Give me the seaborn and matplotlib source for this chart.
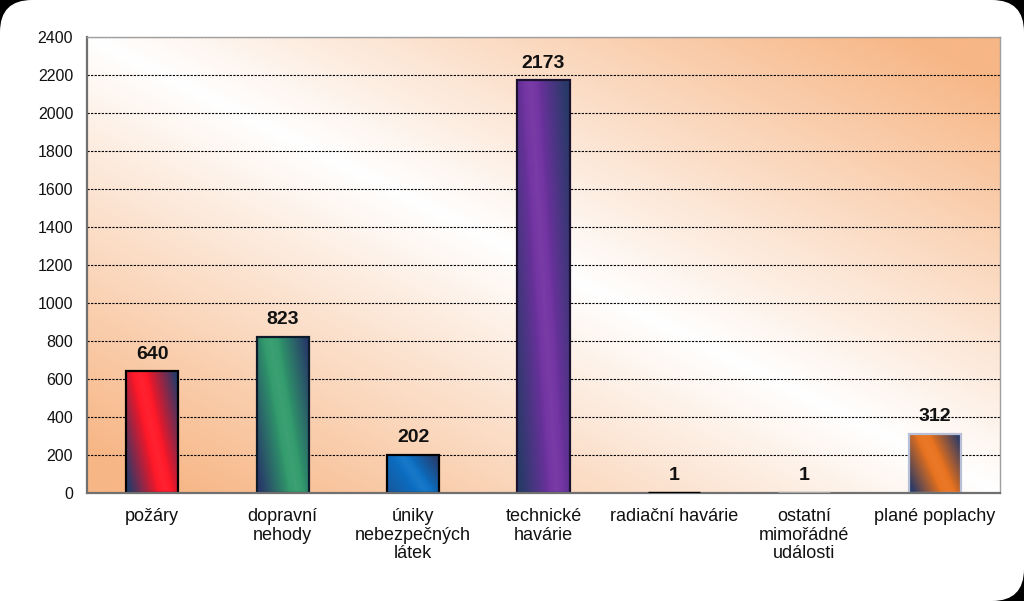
import numpy as np
import matplotlib
matplotlib.use("Agg")
import matplotlib.pyplot as plt
import matplotlib.colors as mcolors
from matplotlib.patches import FancyBboxPatch, Rectangle
import seaborn as sns

categories = ["požáry", "dopravní\nnehody", "úniky\nnebezpečných\nlátek",
              "technické\nhavárie", "radiační havárie",
              "ostatní\nmimořádné\nudálosti", "plané poplachy"]
values = [640, 823, 202, 2173, 1, 1, 312]
yticks = list(range(0, 2401, 200))

bar_colors = ["#ff1424", "#2f9a6a", "#0a6fc4", "#7030a0", "#202020", "#a0a0a0", "#e8701a"]
edge_colors = ["#000000", "#0d1a2a", "#000000", "#1a1030", "#000000", "#a8a8a8", "#b8c0d8"]
# navy weight at bottom-left / top-right corners
navy_bl = [1.0, 1.0, 0.4, 1.0, 0.0, 0.0, 1.0]
navy_tr = [1.0, 1.0, 1.0, 1.0, 0.0, 0.0, 1.0]
navy = np.array(mcolors.to_rgb("#283a68"))

sns.set_theme(style="white")
plt.rcParams["font.family"] = ["Liberation Sans", "DejaVu Sans"]

W, H = 10.24, 6.01
fig = plt.figure(figsize=(W, H), dpi=100, facecolor="black")
frame = FancyBboxPatch((0, 0), W, H, boxstyle="round,pad=0,rounding_size=0.32",
                       transform=fig.dpi_scale_trans, facecolor="white",
                       edgecolor="none", zorder=-10)
fig.patches.append(frame)
fig.patches.append(Rectangle((0, 0), 0.5, 0.5, transform=fig.dpi_scale_trans,
                             facecolor="white", edgecolor="none", zorder=-10))

ax = fig.add_axes([0.085, 0.1797, 0.8916, 0.7587])

# plot-area background gradient
n = 300
s = np.linspace(0, 1, n)
S, T = np.meshgrid(s, s)
u = S + T
w = np.clip(np.abs(u - 1.0) * 1.1, 0, 1) ** 1.0
orange = np.array(mcolors.to_rgb("#f7b685"))
bg = (1 - w)[..., None] * np.ones(3) + w[..., None] * orange
ax.imshow(bg, extent=[0, 1, 0, 1], transform=ax.transAxes, origin="lower",
          aspect="auto", zorder=0.1, interpolation="bilinear")

sns.barplot(x=categories, y=values, hue=categories, palette=bar_colors,
            legend=False, width=0.4, ax=ax, linewidth=1.6, saturation=1)

patches = [p for p in ax.patches if isinstance(p, Rectangle) and p.get_height() > 0]
patches.sort(key=lambda p: p.get_x())
for i, p in enumerate(patches):
    base = np.array(mcolors.to_rgb(bar_colors[i]))
    light = base + (1 - base) * 0.06
    m = 200
    ss = np.linspace(0, 1, m)
    SS, TT = np.meshgrid(ss, ss)
    v = SS + 0.5 * (TT - 0.5) - 0.5
    wl = np.clip((-v - 0.12) / 0.55, 0, 1) * navy_bl[i]
    wr = np.clip((v - 0.12) / 0.55, 0, 1) * navy_tr[i]
    wt = np.clip(wl + wr, 0, 1)
    hl = np.clip(1 - np.abs(v) / 0.2, 0, 1)[..., None]
    col = hl * light + (1 - hl) * base
    img = (1 - wt)[..., None] * col + wt[..., None] * navy
    x0, y0 = p.get_x(), p.get_y()
    im = ax.imshow(img, extent=[x0, x0 + p.get_width(), y0, y0 + p.get_height()],
                   origin="lower", aspect="auto", zorder=1, interpolation="bilinear")
    im.set_clip_path(p)
    p.set_facecolor("none")
    p.set_edgecolor(edge_colors[i])
    if values[i] < 5:
        p.set_linewidth(2.4)
        p.set_zorder(3)
    else:
        p.set_linewidth(1.6)
        p.set_zorder(2)

for c in ax.containers:
    ax.bar_label(c, padding=6, fontsize=14, fontweight="bold", color="#111111")

ax.set_xlim(-0.5, len(categories) - 0.5)
ax.set_ylim(0, 2400)
ax.set_yticks(yticks)
ax.set_yticklabels([str(v) for v in yticks], fontsize=11.5)
ax.set_xticks(range(len(categories)))
ax.set_xticklabels(categories, fontsize=13, linespacing=1.1)
ax.set_xticks(np.arange(-0.5, len(categories), 1.0), minor=True)
ax.tick_params(axis="x", which="major", length=0, pad=11, colors="#111111")
ax.tick_params(axis="x", which="minor", length=6, width=1, color="#606060", direction="out")
ax.tick_params(axis="y", which="major", length=6, width=1, color="#606060",
               direction="out", pad=4, colors="#111111")
ax.tick_params(axis="y", colors="#606060", labelcolor="#111111")

ax.set_axisbelow(True)
ax.yaxis.grid(True, color="black", linestyle=(0, (2, 1.2)), linewidth=0.8)
ax.xaxis.grid(False)
for g in ax.get_ygridlines():
    g.set_zorder(0.5)
ax.set_xlabel("")
ax.set_ylabel("")

ax.spines["left"].set_color("#707070")
ax.spines["left"].set_linewidth(1.6)
ax.spines["bottom"].set_color("#707070")
ax.spines["bottom"].set_linewidth(1.6)
ax.spines["top"].set_color("#a0a0a0")
ax.spines["top"].set_linewidth(1)
ax.spines["right"].set_color("#a0a0a0")
ax.spines["right"].set_linewidth(1)

fig.savefig("out.png", dpi=100, facecolor="black")
